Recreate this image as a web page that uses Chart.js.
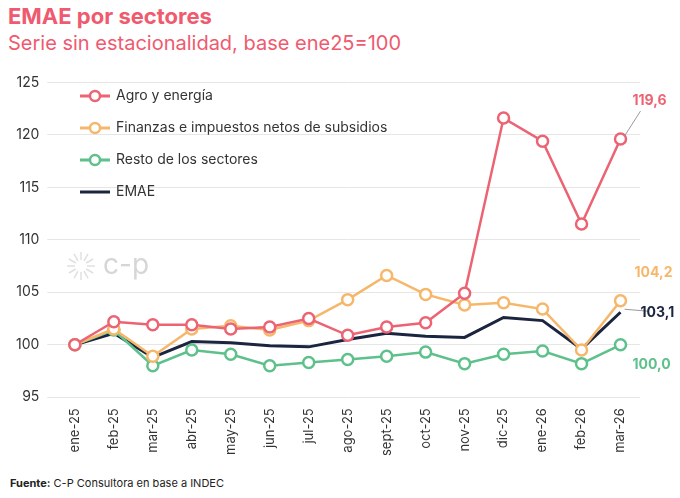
<!DOCTYPE html>
<html><head><meta charset="utf-8">
<script src="https://cdn.jsdelivr.net/npm/chart.js@4"></script>
<style>
body{margin:0;width:680px;height:498px;background:#fff;font-family:Inter,"Open Sans",sans-serif;position:relative;overflow:hidden}
#t{position:absolute;left:8px;top:3px;font-size:22px;font-weight:700;color:#ef5a6f}
#s{position:absolute;left:8px;top:31px;font-size:20px;color:#ef5a6f}
#f{position:absolute;left:10px;top:476px;font-size:11px;color:#222}
#wrap{position:absolute;left:0;top:66px;width:680px;height:393px}
</style></head><body>
<div id="t">EMAE por sectores</div>
<div id="s">Serie sin estacionalidad, base ene25=100</div>
<div id="wrap"><canvas id="c"></canvas></div>
<div id="f"><b>Fuente:</b> C-P Consultora en base a INDEC</div>
<script>
const categories=["ene-25","feb-25","mar-25","abr-25","may-25","jun-25","jul-25","ago-25","sept-25","oct-25","nov-25","dic-25","ene-26","feb-26","mar-26"];
const agro=[100,102.2,101.9,101.9,101.5,101.7,102.5,100.9,101.7,102.1,104.9,121.6,119.4,111.5,119.6];
const finanzas=[100,101.5,98.9,101.5,101.8,101.4,102.3,104.3,106.6,104.8,103.8,104.0,103.4,99.5,104.2];
const resto=[100,101.4,98.0,99.5,99.1,98.0,98.3,98.6,98.9,99.3,98.2,99.1,99.4,98.2,100.0];
const emae=[100,101.1,98.8,100.3,100.2,99.9,99.8,100.5,101.1,100.8,100.7,102.6,102.3,99.6,103.1];
const yTicks=[95,100,105,110,115,120,125];
const C={agro:"#ec6373",fin:"#f6b76b",resto:"#5ec08b",emae:"#1b2540"};
function ds(label,data,color,pts){return{label,data,borderColor:color,backgroundColor:"#fff",borderWidth:pts?2.5:3,pointRadius:pts?5.5:0,pointBorderWidth:2.5,pointBackgroundColor:"#fff",pointBorderColor:color,tension:0};}
const endLabels={id:"endLabels",afterDatasetsDraw(ch){
 const c=ch.ctx;c.save();
 c.fillStyle="#d6d6d6";c.font="28px Inter";c.textBaseline="middle";c.fillText("c-p",103,200);
 c.strokeStyle="#e0e0e0";c.lineWidth=1.5;
 for(let i=0;i<12;i++){const a=i*Math.PI/6;c.beginPath();c.moveTo(81+Math.cos(a)*6,200+Math.sin(a)*6);c.lineTo(81+Math.cos(a)*14,200+Math.sin(a)*14);c.stroke();}
 const specs=[[0,C.agro,"119,6",24,-38,true],[1,C.fin,"104,2",30,-28,false],[3,C.emae,"103,1",32,1,true],[2,C.resto,"100,0",28,20,false]];
 c.font="bold 14px Inter";c.textAlign="left";
 specs.forEach(([i,col,txt,dx,dy,line])=>{const m=ch.getDatasetMeta(i).data[14];
  if(line){c.strokeStyle="#999";c.lineWidth=1;c.beginPath();c.moveTo(m.x+4,m.y-3);c.lineTo(m.x+dx-4,m.y+dy+ (dy<0?10:-2));c.stroke();}
  c.fillStyle=col;c.fillText(txt,m.x+dx-16+ (line?4:0),m.y+dy);});
 const L=[["Agro y energía",C.agro,true],["Finanzas e impuestos netos de subsidios",C.fin,true],["Resto de los sectores",C.resto,true],["EMAE",C.emae,false]];
 c.font="14px Inter";
 L.forEach(([t,col,p],k)=>{const y=30+k*32;c.strokeStyle=col;c.lineWidth=3;c.beginPath();c.moveTo(80,y);c.lineTo(110,y);c.stroke();
  if(p){c.fillStyle="#fff";c.lineWidth=2.5;c.beginPath();c.arc(95,y,5,0,7);c.fill();c.stroke();}
  c.fillStyle="#333";c.fillText(t,116,y);});
 c.restore();}};
new Chart(document.getElementById("c"),{type:"line",
 data:{labels:categories,datasets:[ds("Agro y energía",agro,C.agro,true),ds("Finanzas e impuestos netos de subsidios",finanzas,C.fin,true),ds("Resto de los sectores",resto,C.resto,true),ds("EMAE",emae,C.emae,false)]},
 options:{responsive:true,maintainAspectRatio:false,animation:false,
  layout:{padding:{left:8,right:40,top:10,bottom:0}},
  plugins:{legend:{display:false},tooltip:{enabled:false}},
  scales:{x:{offset:true,grid:{display:false},border:{display:false},ticks:{maxRotation:90,minRotation:90,color:"#333",font:{size:13,family:"Inter"}}},
   y:{min:95,max:125,afterBuildTicks:a=>{a.ticks=yTicks.map(v=>({value:v}))},grid:{color:"#e6e6e6"},border:{display:false},ticks:{color:"#333",font:{size:14,family:"Inter"},padding:8}}}}
 ,plugins:[endLabels]});
</script></body></html>
